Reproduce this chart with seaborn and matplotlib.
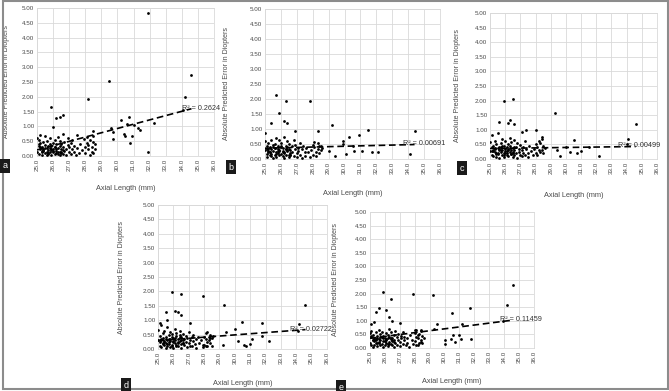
import numpy as np
import pandas as pd
import matplotlib
matplotlib.use("Agg")
import matplotlib.pyplot as plt
from matplotlib.patches import Rectangle
import seaborn as sns

# axial lengths shared by the dense cluster of eyes (25-28.6 mm)
cluster_x = [
    25.0, 25.0, 25.1, 25.1, 25.1, 25.2, 25.2, 25.2, 25.3, 25.3,
    25.3, 25.4, 25.4, 25.4, 25.5, 25.5, 25.5, 25.6, 25.6, 25.6,
    25.7, 25.7, 25.7, 25.8, 25.8, 25.8, 25.9, 25.9, 25.9, 26.0,
    26.0, 26.0, 26.1, 26.1, 26.1, 26.2, 26.2, 26.2, 26.3, 26.3,
    26.3, 26.4, 26.4, 26.4, 26.5, 26.5, 26.5, 26.6, 26.6, 26.6,
    26.7, 26.7, 26.8, 26.8, 26.9, 26.9, 27.0, 27.0, 27.1, 27.1,
    27.2, 27.2, 27.3, 27.3, 27.4, 27.5, 27.5, 27.6, 27.7, 27.8,
    27.9, 28.0, 28.0, 28.1, 28.1, 28.2, 28.2, 28.3, 28.3, 28.4,
    28.4, 28.5, 28.5, 28.6, 25.2, 25.4, 25.6, 25.8, 26.0, 26.2,
    26.4, 26.6, 25.1, 25.3, 25.5, 25.7, 25.9, 26.1, 26.3, 26.5,
]

cluster_a = [
    0.62, 0.15, 0.35, 0.55, 0.08, 0.22, 0.45, 0.70, 0.12, 0.30,
    0.05, 0.25, 0.48, 0.18, 0.66, 0.10, 0.38, 0.28, 0.04, 0.52,
    0.20, 0.33, 0.08, 0.42, 0.15, 0.60, 0.25, 0.05, 0.35, 0.12,
    0.45, 0.22, 0.30, 0.06, 0.55, 0.18, 0.40, 0.09, 0.28, 0.65,
    0.14, 0.35, 0.03, 0.50, 0.22, 0.10, 0.42, 0.30, 0.06, 0.75,
    0.18, 0.48, 0.25, 0.05, 0.38, 0.62, 0.12, 0.30, 0.45, 0.08,
    0.22, 0.55, 0.15, 0.35, 0.05, 0.28, 0.72, 0.10, 0.42, 0.20,
    0.58, 0.30, 0.10, 0.45, 0.65, 0.22, 0.38, 0.05, 0.55, 0.30,
    0.15, 0.48, 0.68, 0.25, 0.32, 0.20, 0.14, 0.28, 0.18, 0.24,
    0.12, 0.20, 0.40, 0.16, 0.26, 0.10, 0.20, 0.32, 0.08, 0.14,
]
cluster_b = [
    0.60, 0.30, 0.18, 0.42, 0.08, 0.35, 0.55, 0.25, 0.12, 0.40,
    0.22, 0.65, 0.10, 0.32, 0.48, 0.05, 0.28, 0.38, 0.15, 0.50,
    0.25, 0.70, 0.08, 0.35, 0.20, 0.45, 0.62, 0.12, 0.30, 0.40,
    0.18, 0.55, 0.28, 0.10, 0.38, 0.75, 0.22, 0.05, 0.45, 0.32,
    0.15, 0.60, 0.28, 0.40, 0.08, 0.35, 0.50, 0.20, 0.12, 0.30,
    0.42, 0.25, 0.65, 0.10, 0.35, 0.48, 0.20, 0.08, 0.38, 0.28,
    0.55, 0.15, 0.32, 0.05, 0.45, 0.25, 0.10, 0.38, 0.22, 0.08,
    0.30, 0.48, 0.15, 0.40, 0.58, 0.25, 0.10, 0.35, 0.52, 0.42,
    0.20, 0.30, 0.45, 0.38, 0.28, 0.16, 0.36, 0.26, 0.44, 0.20,
    0.30, 0.14, 0.34, 0.24, 0.40, 0.18, 0.28, 0.22, 0.34, 0.12,
]
cluster_c = [
    0.58, 0.28, 0.40, 0.15, 0.82, 0.32, 0.10, 0.45, 0.25, 0.60,
    0.35, 0.08, 0.50, 0.22, 0.38, 0.88, 0.18, 0.42, 0.30, 0.05,
    0.55, 0.25, 0.40, 0.12, 0.68, 0.32, 0.20, 0.45, 0.08, 0.35,
    0.28, 0.62, 0.15, 0.40, 0.22, 0.50, 0.10, 0.35, 0.72, 0.25,
    0.45, 0.18, 0.30, 0.58, 0.08, 0.38, 0.22, 0.65, 0.12, 0.30,
    0.42, 0.20, 0.55, 0.05, 0.35, 0.25, 0.48, 0.15, 0.30, 0.10,
    0.40, 0.22, 0.62, 0.12, 0.35, 0.20, 0.08, 0.45, 0.28, 0.15,
    0.35, 0.50, 0.20, 0.42, 0.12, 0.60, 0.30, 0.25, 0.55, 0.70,
    0.30, 0.45, 0.20, 0.38, 0.26, 0.18, 0.34, 0.44, 0.22, 0.30,
    0.16, 0.40, 0.28, 0.36, 0.20, 0.32, 0.14, 0.26, 0.38, 0.24,
]
cluster_d = [
    0.65, 0.30, 0.12, 0.45, 0.25, 0.85, 0.35, 0.08, 0.55, 0.20,
    0.38, 0.15, 0.62, 0.28, 0.05, 0.42, 0.22, 0.75, 0.32, 0.10,
    0.48, 0.18, 0.35, 0.60, 0.08, 0.28, 0.40, 0.15, 0.52, 0.25,
    0.05, 0.38, 0.68, 0.20, 0.30, 0.45, 0.12, 0.55, 0.25, 0.35,
    0.10, 0.48, 0.28, 0.62, 0.18, 0.40, 0.05, 0.30, 0.52, 0.22,
    0.35, 0.15, 0.45, 0.25, 0.08, 0.38, 0.58, 0.20, 0.30, 0.12,
    0.42, 0.10, 0.28, 0.50, 0.18, 0.35, 0.05, 0.40, 0.22, 0.30,
    0.08, 0.42, 0.15, 0.35, 0.55, 0.25, 0.10, 0.40, 0.30, 0.48,
    0.20, 0.38, 0.12, 0.45, 0.32, 0.24, 0.18, 0.36, 0.28, 0.14,
    0.40, 0.22, 0.30, 0.16, 0.34, 0.26, 0.12, 0.38, 0.20, 0.30,
]
cluster_e = [
    0.55, 0.20, 0.40, 0.10, 0.62, 0.30, 0.05, 0.48, 0.25, 0.35,
    0.12, 0.58, 0.30, 0.18, 0.45, 0.08, 0.38, 0.65, 0.22, 0.32,
    0.50, 0.10, 0.28, 0.42, 0.15, 0.60, 0.35, 0.05, 0.45, 0.25,
    0.38, 0.12, 0.55, 0.28, 0.20, 0.48, 0.08, 0.35, 0.70, 0.22,
    0.42, 0.15, 0.32, 0.58, 0.10, 0.38, 0.25, 0.48, 0.05, 0.30,
    0.62, 0.18, 0.40, 0.10, 0.30, 0.52, 0.22, 0.08, 0.45, 0.35,
    0.15, 0.60, 0.28, 0.40, 0.10, 0.35, 0.20, 0.05, 0.48, 0.30,
    0.15, 0.55, 0.25, 0.40, 0.65, 0.10, 0.35, 0.50, 0.20, 0.62,
    0.30, 0.45, 0.18, 0.38, 0.28, 0.34, 0.20, 0.42, 0.26, 0.16,
    0.36, 0.22, 0.44, 0.30, 0.18, 0.40, 0.24, 0.32, 0.14, 0.28,
]

# scattered eyes, per panel
extra_x_a = [31.9, 34.6, 29.5, 34.2, 28.2, 25.9, 26.6, 26.4, 26.2, 30.7, 30.2, 26.0, 34.1, 32.3,
             31.3, 31.4, 29.7, 29.7, 30.4, 30.5, 30.9, 30.8, 31.9, 29.6, 30.6, 31.0, 28.5, 28.6, 28.5]
extra_y_a = [4.82, 2.73, 2.53, 1.99, 1.93, 1.65, 1.40, 1.31, 1.28, 1.33, 1.22, 0.99, 1.57, 1.10,
             0.94, 0.88, 0.80, 0.57, 0.74, 0.68, 0.68, 0.45, 0.15, 0.95, 1.08, 1.05, 0.85, 0.40, 0.10]
extra_x_b = [25.7, 26.3, 27.8, 25.9, 26.2, 26.4, 25.4, 29.2, 31.5, 34.4, 28.3, 26.9, 25.0, 30.9,
             30.3, 29.9, 29.9, 29.0, 29.4, 30.1, 30.6, 31.1, 31.7, 32.1, 34.1, 30.5]
extra_y_b = [2.13, 1.93, 1.93, 1.53, 1.28, 1.19, 1.19, 1.15, 0.98, 0.95, 0.95, 0.93, 0.88, 0.81,
             0.72, 0.59, 0.50, 0.26, 0.09, 0.17, 0.28, 0.28, 0.23, 0.23, 0.18, 0.45]
extra_x_c = [25.9, 26.5, 29.3, 34.6, 25.6, 26.3, 26.2, 26.6, 27.4, 28.0, 27.1, 34.1, 30.5, 28.4,
             29.6, 30.3, 30.7, 31.0, 32.2, 31.5, 30.0, 29.4, 34.0]
extra_y_c = [2.00, 2.05, 1.59, 1.20, 1.27, 1.32, 1.25, 1.20, 0.98, 1.00, 0.91, 0.68, 0.66, 0.75,
             0.11, 0.23, 0.20, 0.26, 0.09, 0.41, 0.40, 0.30, 0.50]
extra_x_d = [25.9, 26.5, 27.9, 29.3, 34.6, 25.5, 26.1, 26.3, 26.5, 25.6, 25.1, 27.1, 30.5, 31.8,
             34.2, 30.0, 28.2, 29.4, 29.2, 30.6, 30.7, 31.0, 32.2, 31.1, 30.2, 31.8, 28.4, 27.9,
             28.1, 34.1]
extra_y_d = [1.98, 1.91, 1.83, 1.54, 1.54, 1.27, 1.33, 1.27, 1.17, 0.99, 0.90, 0.90, 0.94, 0.90,
             0.87, 0.68, 0.60, 0.58, 0.15, 0.15, 0.10, 0.18, 0.27, 0.36, 0.29, 0.44, 0.38, 0.15,
             0.09, 0.62]
extra_x_e = [25.9, 27.9, 29.2, 34.6, 34.2, 26.4, 31.7, 25.4, 25.6, 26.1, 30.5, 26.3, 26.5, 25.1,
             25.3, 27.0, 29.5, 31.2, 33.9, 28.0, 28.4, 30.0, 30.0, 30.4, 30.7, 30.6, 31.0, 31.1,
             31.8, 28.4, 28.2, 28.1, 29.3]
extra_y_e = [2.06, 1.97, 1.96, 2.30, 1.57, 1.79, 1.47, 1.32, 1.47, 1.38, 1.30, 1.13, 0.98, 0.89,
             0.95, 0.93, 0.89, 0.89, 0.98, 0.65, 0.65, 0.28, 0.16, 0.32, 0.22, 0.47, 0.47, 0.32,
             0.32, 0.22, 0.47, 0.10, 0.71]

# linear trendlines: value at 25 mm and slope per mm
trend_start = [0.205, 0.36, 0.36, 0.29, 0.355]
trend_slope = [0.145, 0.013, 0.007, 0.04, 0.07]
r2_labels = ["R² = 0.2624", "R² = 0.00691", "R² = 0.00499", "R² = 0.02722", "R² = 0.11459"]
r2_text_x = [34.0, 33.7, 33.4, 33.6, 33.7]
panel_letters = ["a", "b", "c", "d", "e"]

x_ticks = [25.0, 26.0, 27.0, 28.0, 29.0, 30.0, 31.0, 32.0, 33.0, 34.0, 35.0, 36.0]
y_ticks = [0.0, 0.5, 1.0, 1.5, 2.0, 2.5, 3.0, 3.5, 4.0, 4.5, 5.0]

clusters = [cluster_a, cluster_b, cluster_c, cluster_d, cluster_e]
extras_x = [extra_x_a, extra_x_b, extra_x_c, extra_x_d, extra_x_e]
extras_y = [extra_y_a, extra_y_b, extra_y_c, extra_y_d, extra_y_e]

W, H = 669, 391
# plot areas in pixels: left, right, top, bottom
boxes = [(37, 214, 8, 156), (265, 440, 9, 159), (490, 657, 13, 159),
         (158, 327, 205, 349), (370, 534, 212, 348)]
ylabel_x = [-0.153, -0.2, -0.174, -0.195, -0.19]
xlabel_y = [-0.196, -0.207, -0.226, -0.215, -0.22]
letter_pos = [(5, 166), (231, 167), (462, 168), (126, 385), (341, 387)]

sns.set_style("white")
plt.rcParams["font.family"] = ["Liberation Sans", "DejaVu Sans"]

fig = plt.figure(figsize=(W / 100, H / 100), dpi=100)
gray_text = "#4a4a4a"

for i in range(5):
    l, r, t, b = boxes[i]
    ax = fig.add_axes([l / W, 1 - b / H, (r - l) / W, (b - t) / H])

    df = pd.DataFrame({
        "x": cluster_x + extras_x[i],
        "y": clusters[i] + extras_y[i],
    })
    sns.scatterplot(data=df, x="x", y="y", ax=ax, color="black", s=4,
                    linewidth=0, zorder=3)

    xmax = max(df["x"])
    line_x = np.array([25.0, xmax])
    trend = pd.DataFrame({"x": line_x, "y": trend_start[i] + trend_slope[i] * (line_x - 25.0)})
    sns.lineplot(data=trend, x="x", y="y", ax=ax, color="black", lw=1.2,
                 zorder=4).lines[-1].set_dashes([4, 2.2])
    y_end = trend_start[i] + trend_slope[i] * (xmax - 25.0)
    ax.text(r2_text_x[i], y_end + 0.02, r2_labels[i], fontsize=5.2, color="#333333",
            va="center", ha="left", zorder=5)

    ax.set_xlim(25, 36)
    ax.set_ylim(0, 5)
    ax.set_xticks(x_ticks)
    ax.set_yticks(y_ticks)
    ax.set_xticklabels([f"{v:.1f}" for v in x_ticks], rotation=90)
    ax.set_yticklabels([f"{v:.2f}" for v in y_ticks])
    ax.tick_params(labelsize=4.5, colors=gray_text, length=0, pad=2)
    ax.grid(True, color="#d9d9d9", lw=0.6)
    for s in ax.spines.values():
        s.set_color("#d9d9d9")
        s.set_linewidth(0.6)

    ax.set_xlabel("Axial Length (mm)", fontsize=5.3, color=gray_text)
    ax.set_ylabel("Absolute Predicted Error in Diopters", fontsize=5.0, color=gray_text)
    ax.xaxis.set_label_coords(0.5, xlabel_y[i])
    ax.yaxis.set_label_coords(ylabel_x[i], 0.5)

    lx, ly = letter_pos[i]
    fig.text(lx / W, 1 - ly / H, panel_letters[i], fontsize=6.5, color="white",
             ha="center", va="center",
             bbox=dict(boxstyle="square,pad=0.25", fc="#1a1a1a", ec="none"))

# grey outer frame
fig.patches.append(Rectangle((0.004, 0.004), 0.994, 0.993, transform=fig.transFigure,
                             fill=False, ec="#8c8c8c", lw=1.5))

fig.savefig("out.png", dpi=100)
